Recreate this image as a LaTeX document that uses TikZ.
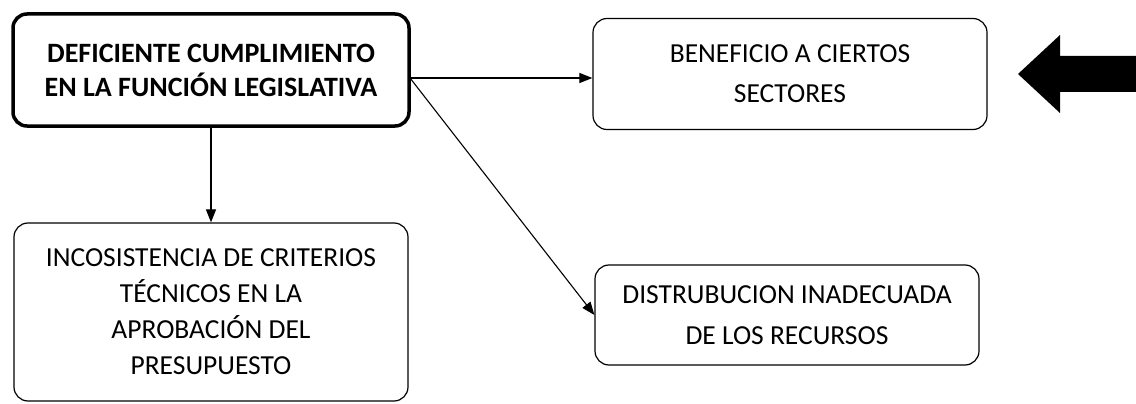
\documentclass[tikz,border=0pt]{standalone}
\usepackage{fontspec}
\setmainfont{Carlito}
\usetikzlibrary{arrows.meta, positioning, calc}

\tikzset{
  causebox/.style={draw=black, rounded corners=14pt, line width=1.2pt,
    align=center, inner sep=4pt, font=\fontsize{27.5}{38}\selectfont},
  mainbox/.style={causebox, line width=3.5pt, font=\fontsize{28}{34}\selectfont\bfseries},
  link/.style={-{Triangle[length=13pt,width=10pt]}, line width=1.1pt}
}

\begin{document}
\begin{tikzpicture}[x=1pt,y=-1pt]
  \useasboundingbox (0,0) rectangle (1136,404);
  % boxes
  \node[mainbox, minimum width=396pt, minimum height=112pt] (main) at (211,70)
    {DEFICIENTE CUMPLIMIENTO\\EN LA FUNCIÓN LEGISLATIVA};
  \node[causebox, minimum width=394pt, minimum height=111pt,
    font=\fontsize{27.5}{40}\selectfont] (benef) at (790,74)
    {BENEFICIO A CIERTOS\\SECTORES};
  \node[causebox, minimum width=394pt, minimum height=178pt,
    font=\fontsize{27.5}{36}\selectfont] (incons) at (211,312)
    {INCOSISTENCIA DE CRITERIOS\\TÉCNICOS EN LA\\APROBACIÓN DEL\\PRESUPUESTO};
  \node[causebox, minimum width=384pt, minimum height=100pt,
    font=\fontsize{27.5}{41}\selectfont] (distrib) at (787,315)
    {DISTRUBUCION INADECUADA\\DE LOS RECURSOS};
  % connectors
  \coordinate (mainout) at (410,78);
  \draw[link] (mainout) -- (benef.west |- mainout);
  \draw[link] (mainout) -- (distrib.west);
  \draw[link] (main.south) -- (incons.north);
  % big pointer
  \fill[black] (1018,74) -- (1060,35) -- (1060,56) -- (1136,56) -- (1136,92)
    -- (1060,92) -- (1060,113) -- cycle;
\end{tikzpicture}
\end{document}
